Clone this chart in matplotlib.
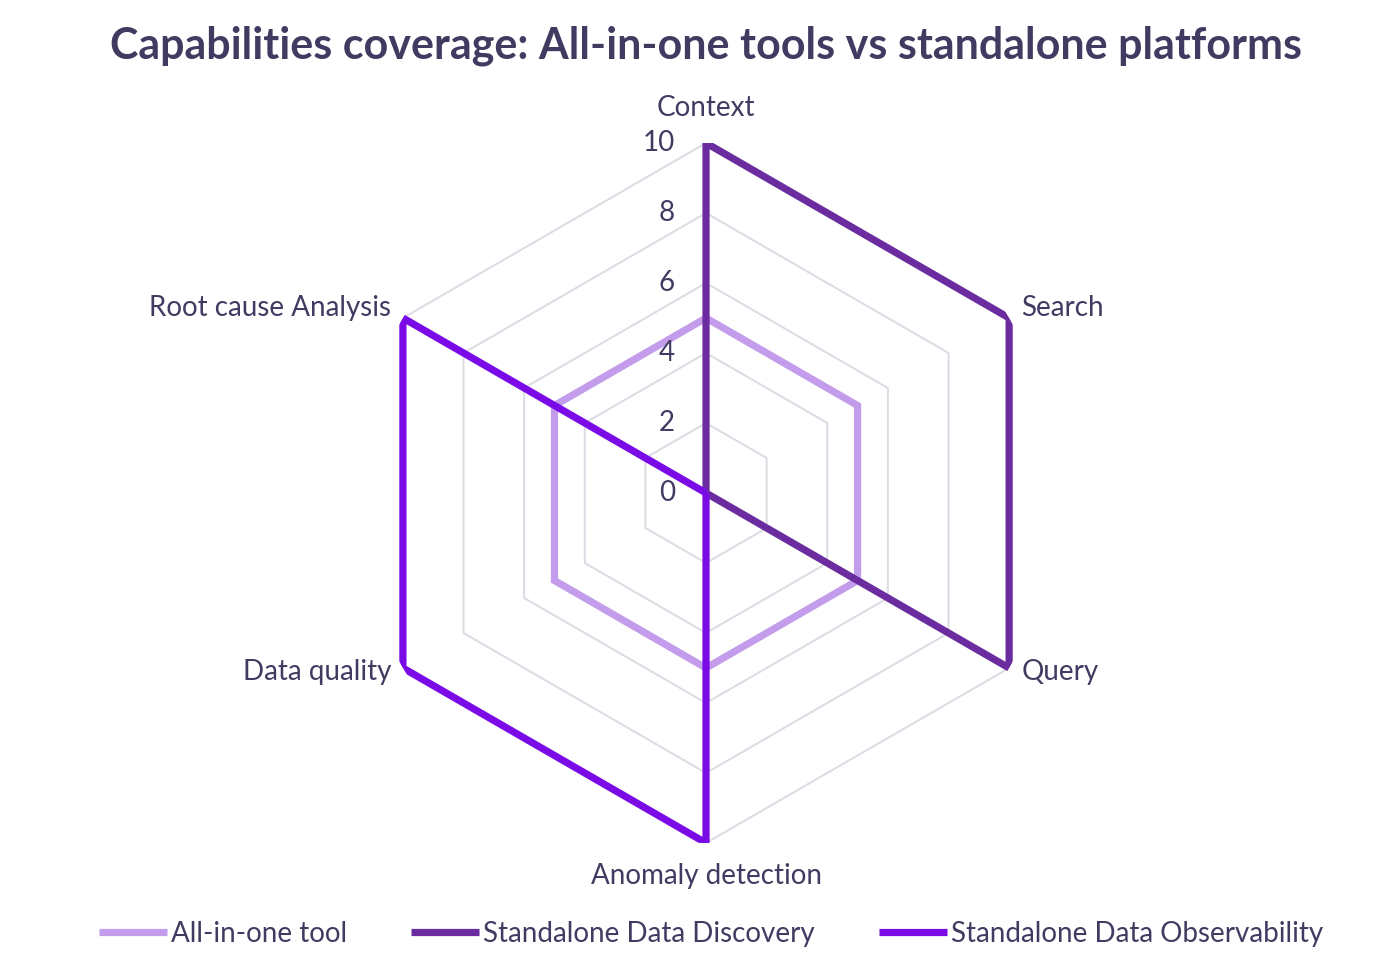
import numpy as np
import matplotlib.pyplot as plt

# data
categories = ["Context", "Search", "Query", "Anomaly detection", "Data quality", "Root cause Analysis"]
all_in_one = [5, 5, 5, 5, 5, 5]
discovery = [10, 10, 10, 0, 0, 0]
observability = [0, 0, 0, 10, 10, 10]
r_ticks = [0, 2, 4, 6, 8, 10]

series = [
    ("All-in-one tool", all_in_one, "#C39DEB"),
    ("Standalone Data Discovery", discovery, "#6A2C9E"),
    ("Standalone Data Observability", observability, "#7A0BE6"),
]

text_col = "#433A62"
grid_col = "#DCDAE3"
plt.rcParams['font.family'] = ['Lato', 'DejaVu Sans']

fig = plt.figure(figsize=(14, 9.72), dpi=100)
ax = fig.add_axes([0.2543, 0.1327, 0.5, 0.7202], projection='polar')
ax.set_theta_offset(np.pi / 2)
ax.set_theta_direction(-1)
ax.set_ylim(0, 10)
ax.grid(False)
ax.spines['polar'].set_visible(False)
ax.set_xticks([])
ax.set_yticks([])

n = len(categories)
theta = np.linspace(0, 2 * np.pi, n, endpoint=False)
theta_closed = np.append(theta, theta[0])

# hexagonal gridlines
for r in r_ticks[1:]:
    ax.plot(theta_closed, [r] * (n + 1), color=grid_col, lw=1.4, zorder=1)

for name, vals, col in series:
    v = np.append(vals, vals[0])
    ax.plot(theta_closed, v, color=col, lw=5.2, label=name, zorder=3,
            solid_joinstyle='miter', solid_capstyle='butt')

# radial tick labels
for r in r_ticks:
    ax.annotate(str(r), xy=(0, r), xytext=(-31, 0), textcoords='offset pixels',
                ha='right', va='center', fontsize=20, color=text_col, zorder=4)

# category labels
offsets = [(0, 35, 'center'), (12, 10, 'left'), (12, -4, 'left'),
           (0, -33, 'center'), (-12, -4, 'right'), (-12, 10, 'right')]
for t, lab, (dx, dy, ha) in zip(theta, categories, offsets):
    ax.annotate(lab, xy=(t, 10), xytext=(dx, dy), textcoords='offset pixels',
                ha=ha, va='center', fontsize=20, color=text_col)

fig.text(0.504, 0.953, "Capabilities coverage: All-in-one tools vs standalone platforms",
         ha='center', va='center', fontsize=31, fontweight='bold', color=text_col)

leg = fig.legend(loc='center', bbox_to_anchor=(0.508, 0.039), ncol=3, frameon=False,
                 fontsize=20, handlelength=2.45, handletextpad=0.15, columnspacing=2.3,
                 labelcolor=text_col)
for h in leg.get_lines():
    h.set_linewidth(5.2)

fig.savefig("out.png", dpi=100, facecolor='white')
